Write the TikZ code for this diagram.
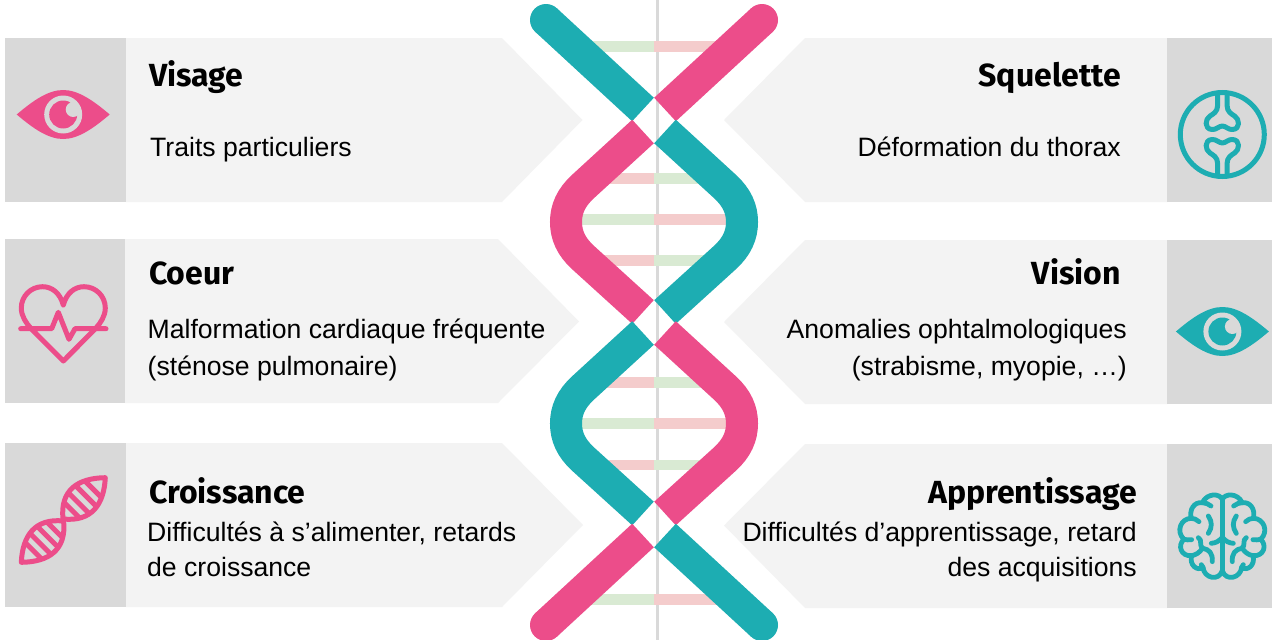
\documentclass[tikz,border=0pt]{standalone}
\usepackage{fontspec}
\setmainfont{Liberation Sans}
\newfontfamily\titlefont{Fira Sans}
\definecolor{tealc}{HTML}{1DADB2}
\definecolor{pinkc}{HTML}{EC4D8A}
\definecolor{panelc}{HTML}{F3F3F3}
\definecolor{greyc}{HTML}{D9D9D9}
\definecolor{rungg}{HTML}{D9EAD3}
\definecolor{rungp}{HTML}{F4CCCC}
\tikzset{
  panel/.style={fill=panelc,draw=none},
  iconbox/.style={fill=greyc,draw=none},
  strand/.style={line width=32pt,line cap=butt},
  titletext/.style={inner sep=0pt,font=\titlefont\bfseries\fontsize{32}{36}\selectfont},
  bodytext/.style={inner sep=0pt,font=\fontsize{26.6}{30}\selectfont},
  icon/.style={line width=5pt,line cap=round,line join=round},
  brainline/.style={tealc,line width=4.8pt,line cap=round,line join=round},
}
\newcommand{\eyeicon}[3]{% cx cy colour
  \begin{scope}[shift={(#1,#2)}]
    \fill[#3] (-46.5,0) .. controls (-30,-14) and (-15,-24.5) .. (0,-24.5) .. controls (15,-24.5) and (30,-14) .. (46.5,0)
      .. controls (30,14) and (15,24.5) .. (0,24.5) .. controls (-15,24.5) and (-30,14) .. (-46.5,0) -- cycle;
    \fill[greyc] (0,0) circle (19);
    \fill[#3] (0,0) circle (14);
    \fill[greyc] (10,-5) circle (7.5);
  \end{scope}}
\newcommand{\leafhalf}{%
  \begin{scope}
    \clip (63,519) .. controls (60,490) and (78,478) .. (105.3,477.7) .. controls (104,504) and (92,522) .. (63,519) -- cycle;
    \fill[greyc] (50,470) rectangle (110,530);
    \foreach \c in {1.7,15.7,30,44}
      \draw[pinkc,line width=5pt] (50,490-\c) -- ++(80,80);
  \end{scope}
  \draw[pinkc,icon] (63,519) .. controls (60,490) and (78,478) .. (105.3,477.7) .. controls (104,504) and (92,522) .. (63,519) -- cycle;}
\newcommand{\brainhalf}{%
  \draw[brainline]
    (0,178) .. controls (-8,160) and (-45,158) .. (-60,188)
    .. controls (-85,185) and (-100,210) .. (-93,235)
    .. controls (-125,235) and (-140,275) .. (-115,298)
    .. controls (-135,315) and (-125,350) .. (-92,347)
    .. controls (-100,375) and (-75,395) .. (-58,382)
    .. controls (-55,415) and (-10,425) .. (0,392);
  \draw[brainline] (-60,188) .. controls (-50,188) and (-42,192) .. (-34,198);
  \draw[brainline] (-93,235) .. controls (-85,235) and (-78,238) .. (-70,245);
  \draw[brainline] (-115,298) .. controls (-108,300) and (-100,300) .. (-92,299);
  \draw[brainline] (-72,293) .. controls (-58,300) and (-72,318) .. (-58,325) .. controls (-40,328) and (-28,340) .. (-30,365);
  \draw[brainline] (-92,347) .. controls (-80,345) and (-68,338) .. (-60,325);
  \draw[brainline] (-58,382) .. controls (-58,378) and (-60,376) .. (-63,374);
  \draw[brainline] (-42,228) .. controls (-30,245) and (-30,262) .. (-42,280);
  \draw[brainline] (0,292) .. controls (-10,304) and (-20,309) .. (-33,310);}
\begin{document}
\begin{tikzpicture}[x=1pt,y=-1pt]
\useasboundingbox (0,0) rectangle (1272,640);
\clip (0,0) rectangle (1272,640);
\fill[white] (0,0) rectangle (1272,640);
% panels, left
\fill[panel] (126,38) -- (502,38) -- (582.5,120) -- (502,202) -- (126,202) -- cycle;
\fill[panel] (125,239) -- (498,239) -- (579,321.5) -- (498,403) -- (125,403) -- cycle;
\fill[panel] (126,443) -- (502,443) -- (583,525) -- (502,607) -- (126,607) -- cycle;
\fill[iconbox] (5,38) rectangle (126,202);
\fill[iconbox] (5,239) rectangle (125,403);
\fill[iconbox] (5,443) rectangle (126,607);
% panels, right
\fill[panel] (1167,38) -- (805,38) -- (724,120) -- (805,202) -- (1167,202) -- cycle;
\fill[panel] (1167,240) -- (805,240) -- (724,322) -- (805,404) -- (1167,404) -- cycle;
\fill[panel] (1167,444) -- (805,444) -- (724,525.5) -- (805,608) -- (1167,608) -- cycle;
\fill[iconbox] (1167,38) rectangle (1272,202);
\fill[iconbox] (1167,240) rectangle (1272,404);
\fill[iconbox] (1167,444) rectangle (1272,608);
% central line
\draw[greyc,line width=3pt] (657,0) -- (657,640);
% rungs
\foreach \ya/\yb/\cl/\cr/\xl/\xr in {41.3/51.7/rungg/rungp/590/718, 173/183.5/rungp/rungg/600/708, 214/224.5/rungg/rungp/575/733, 255/265.5/rungp/rungg/600/708, 377/388/rungp/rungg/600/708, 418/428.5/rungg/rungp/575/733, 460/470/rungp/rungg/600/708, 594/604.5/rungg/rungp/590/718}{
  \fill[\cl] (\xl,\ya) rectangle (654,\yb);
  \fill[\cr] (654,\ya) rectangle (\xr,\yb);
}
% strands
\fill[tealc] (546,20) circle (16);
\draw[tealc,strand] (546,20) -- (643,109.5);
\fill[pinkc] (762,20) circle (16);
\draw[pinkc,strand] (762,20) -- (665,109.5);
\draw[pinkc,strand] (643,131.5) -- (583,186.5) .. controls (571,197.5) and (566,209) .. (566,222) .. controls (566,235) and (571,246.5) .. (583,257.5) -- (643,312);
\draw[tealc,strand] (665,131.5) -- (725,186.5) .. controls (737,197.5) and (742,209) .. (742,222) .. controls (742,235) and (737,246.5) .. (725,257.5) -- (665,312);
\draw[tealc,strand] (643,333) -- (583,388) .. controls (571,399) and (566,410.5) .. (566,423.5) .. controls (566,436.5) and (571,448) .. (583,459) -- (643,513.5);
\draw[pinkc,strand] (665,333) -- (725,388) .. controls (737,399) and (742,410.5) .. (742,423.5) .. controls (742,436.5) and (737,448) .. (725,459) -- (665,513.5);
\fill[pinkc] (546,625) circle (16);
\draw[pinkc,strand] (546,625) -- (643,535.5);
\fill[tealc] (762,625) circle (16);
\draw[tealc,strand] (762,625) -- (665,535.5);
% icons
\eyeicon{63.2}{114.5}{pinkc}
\eyeicon{1222.4}{331.5}{tealc}
% heart
\draw[pinkc,icon] (63.3,305) .. controls (60,293) and (52,286.7) .. (42.5,286.7) .. controls (31,286.7) and (21.3,296) .. (21.3,308) .. controls (21.3,316) and (26,323) .. (31,328.5) -- (63.3,361) -- (95.6,328.5) .. controls (100.6,323) and (105.3,316) .. (105.3,308) .. controls (105.3,296) and (95.6,286.7) .. (84.1,286.7) .. controls (74.6,286.7) and (66.6,293) .. (63.3,305);
\draw[pinkc,icon] (20.7,328.7) -- (51.7,328.7) -- (58.3,312.3) -- (69,339.3) -- (75,328.7) -- (106,328.7);
% dna icon
\leafhalf
\begin{scope}[rotate around={180:(63.3,520)}]
\leafhalf
\end{scope}
% bone icon
\draw[tealc,line width=5pt] (1222.3,134.5) circle (42);
\draw[tealc,icon] (1217.7,94) -- (1217.7,105) .. controls (1217.7,112) and (1213,114) .. (1210,116) .. controls (1205,119) and (1204,129) .. (1212,129.5) .. controls (1216,130) and (1219,126) .. (1222.3,126) .. controls (1225.6,126) and (1228.6,130) .. (1232.6,129.5) .. controls (1240.6,129) and (1239.6,119) .. (1234.6,116) .. controls (1231.6,114) and (1227,112) .. (1227,105) -- (1227,94);
\draw[tealc,icon] (1217.7,175) -- (1217.7,164) .. controls (1217.7,157) and (1213,155) .. (1210,153) .. controls (1205,150) and (1204,140) .. (1212,139.5) .. controls (1216,139) and (1219,143) .. (1222.3,143) .. controls (1225.6,143) and (1228.6,139) .. (1232.6,139.5) .. controls (1240.6,140) and (1239.6,150) .. (1234.6,153) .. controls (1231.6,155) and (1227,157) .. (1227,164) -- (1227,175);
% brain icon
\begin{scope}[shift={(1222.3,440)},x=0.3333pt,y=-0.3333pt]
\draw[brainline] (0,178) -- (0,392);
\brainhalf
\end{scope}
\begin{scope}[shift={(1222.3,440)},x=-0.3333pt,y=-0.3333pt]
\brainhalf
\end{scope}
% texts
\node[titletext,anchor=base west] (t1) at (149,86) {Visage};
\node[bodytext,anchor=base west] (b1) at (150,156) {Traits particuliers};
\node[titletext,anchor=base west] (t2) at (149,284) {Coeur};
\node[bodytext,anchor=base west] (b2a) at (147.5,338) {Malformation cardiaque fréquente};
\node[bodytext,anchor=base west] (b2b) at (147.5,375) {(sténose pulmonaire)};
\node[titletext,anchor=base west] (t3) at (149,503) {Croissance};
\node[bodytext,anchor=base west] (b3a) at (147,541) {Difficultés à s’alimenter, retards};
\node[bodytext,anchor=base west] (b3b) at (147,576) {de croissance};
\node[titletext,anchor=base east] (t4) at (1121,86) {Squelette};
\node[bodytext,anchor=base east] (b4) at (1121,156) {Déformation du thorax};
\node[titletext,anchor=base east] (t5) at (1121,284) {Vision};
\node[bodytext,anchor=base east] (b5a) at (1127,338) {Anomalies ophtalmologiques};
\node[bodytext,anchor=base east] (b5b) at (1127,375) {(strabisme, myopie, …)};
\node[titletext,anchor=base east] (t6) at (1137,503) {Apprentissage};
\node[bodytext,anchor=base east] (b6a) at (1137,541) {Difficultés d’apprentissage, retard};
\node[bodytext,anchor=base east] (b6b) at (1137,576) {des acquisitions};
\end{tikzpicture}
\end{document}
